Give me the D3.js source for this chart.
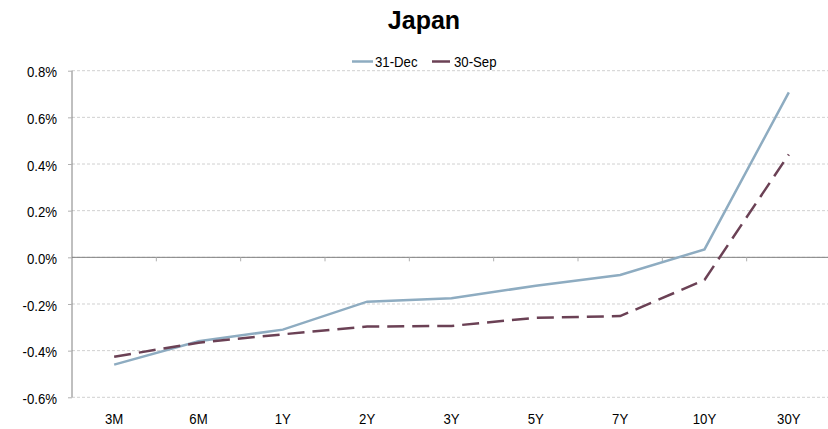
<!DOCTYPE html>
<html><head><meta charset="utf-8">
<script src="https://cdn.jsdelivr.net/npm/d3@7"></script>
<style>
body{margin:0;background:#fff;}
text{font-family:Arial,"Liberation Sans",sans-serif;}
</style></head>
<body><svg id="c" width="828" height="429"></svg>
<script>
const categories = ["3M","6M","1Y","2Y","3Y","5Y","7Y","10Y","30Y"];
const dec31 = [-0.46,-0.36,-0.31,-0.19,-0.175,-0.122,-0.076,0.034,0.707];
const sep30 = [-0.426,-0.366,-0.33,-0.297,-0.294,-0.259,-0.252,-0.097,0.441];
const yTicks = [-0.6,-0.4,-0.2,0,0.2,0.4,0.6,0.8];
const seriesNames = ["31-Dec","30-Sep"];

const svg = d3.select("#c");
const pL = 72, pR = 831, pT = 70.7, pB = 397.3;
const SX = 0.88, FS = 15;
const x = d3.scaleBand().domain(categories).range([pL,pR]);
const y = d3.scaleLinear().domain([-0.6,0.8]).range([pB,pT]);

function ctext(g, tx, ty, str, anchor){
  return g.append("text").attr("transform",`translate(${tx},${ty}) scale(${SX},1)`)
    .attr("text-anchor",anchor||"start").attr("font-size",FS).attr("fill","#000").text(str);
}

// gridlines
svg.append("g").selectAll("line").data(yTicks).join("line")
  .attr("x1",pL).attr("x2",828).attr("y1",d=>y(d)).attr("y2",d=>y(d))
  .attr("stroke","#d0d0d0").attr("stroke-width",1).attr("stroke-dasharray","3,2");

// y axis
const yAxis = d3.axisLeft(y).tickValues(yTicks).tickSize(4).tickFormat("");
const gy = svg.append("g").attr("transform",`translate(${pL},0)`).call(yAxis);
gy.select(".domain").attr("stroke","#808080").attr("d",`M0,${pT}V${pB}`);
gy.selectAll(".tick line").attr("stroke","#b0b0b0");
const gyl = svg.append("g");
yTicks.forEach(t=>ctext(gyl, 57, y(t)+6.7, t.toFixed(1)+"%", "end"));

// x axis at zero
const gx = svg.append("g").attr("transform",`translate(0,${y(0)})`)
  .call(d3.axisBottom(x).tickSize(0).tickFormat(""));
gx.select(".domain").attr("stroke","#808080").attr("d",`M${pL},0H828`);
gx.selectAll(".tick").remove();
gx.selectAll("line.bt").data(categories.slice(1)).join("line").attr("class","bt")
  .attr("x1",d=>x(d)).attr("x2",d=>x(d)).attr("y1",0).attr("y2",4).attr("stroke","#b0b0b0");

// x labels at bottom
const gxl = svg.append("g");
categories.forEach(c=>ctext(gxl, x(c)+x.bandwidth()/2, 424, c, "middle"));

const line = d3.line().x((d,i)=>x(categories[i])+x.bandwidth()/2).y(d=>y(d));
svg.append("path").datum(dec31).attr("d",line).attr("fill","none")
  .attr("stroke","#8eacc1").attr("stroke-width",2.5);
svg.append("path").datum(sep30).attr("d",line).attr("fill","none")
  .attr("stroke","#6b4155").attr("stroke-width",2.5).attr("stroke-dasharray","17,8");

// title
svg.append("text").attr("x",424).attr("y",28.5).attr("text-anchor","middle")
  .attr("font-size",25).attr("font-weight","bold").attr("fill","#000").text("Japan");

// legend
const lg = svg.append("g");
lg.append("line").attr("x1",352).attr("x2",373).attr("y1",61.5).attr("y2",61.5)
  .attr("stroke","#8eacc1").attr("stroke-width",2.5);
ctext(lg, 375, 66.7, seriesNames[0]);
lg.append("line").attr("x1",432).attr("x2",450).attr("y1",61.5).attr("y2",61.5)
  .attr("stroke","#6b4155").attr("stroke-width",2.5);
ctext(lg, 454, 66.7, seriesNames[1]);
</script></body></html>
